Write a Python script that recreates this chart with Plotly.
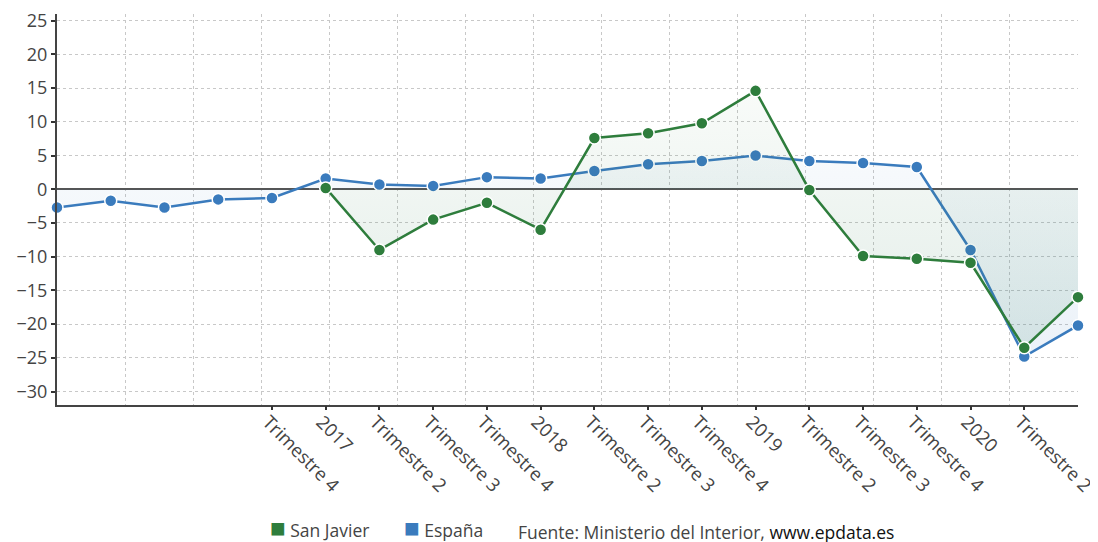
import plotly.graph_objects as go

idx = list(range(20))
tick_labels = ["", "", "", "", "Trimestre 4", "2017", "Trimestre 2", "Trimestre 3", "Trimestre 4",
               "2018", "Trimestre 2", "Trimestre 3", "Trimestre 4", "2019", "Trimestre 2",
               "Trimestre 3", "Trimestre 4", "2020", "Trimestre 2", ""]
espana = [-2.7, -1.7, -2.7, -1.5, -1.3, 1.6, 0.7, 0.5, 1.8, 1.6, 2.7, 3.7, 4.2, 5.0, 4.2, 3.9, 3.3,
          -9.0, -24.8, -20.2]
san_javier = [None, None, None, None, None, 0.2, -9.0, -4.5, -2.0, -6.0, 7.6, 8.3, 9.8, 14.6, -0.1,
              -9.9, -10.3, -10.9, -23.5, -16.0]

GREEN = "#2e7d3c"
BLUE = "#3a7bbd"

fig = go.Figure()
fig.add_trace(go.Scatter(
    x=idx, y=espana, mode="lines+markers", name="España",
    line=dict(color=BLUE, width=2.5),
    marker=dict(size=12, color=BLUE, line=dict(color="white", width=1.5)),
    fill="tozeroy",
    fillgradient=dict(type="vertical", start=-25, stop=15,
                      colorscale=[[0, "rgba(58,123,189,0.10)"], [1, "rgba(58,123,189,0.02)"]]),
    cliponaxis=False, showlegend=False))
sj_x = [i for i, v in zip(idx, san_javier) if v is not None]
sj_y = [v for v in san_javier if v is not None]
fig.add_trace(go.Scatter(
    x=sj_x, y=sj_y, mode="lines+markers", name="San Javier",
    line=dict(color=GREEN, width=2.5),
    marker=dict(size=12, color=GREEN, line=dict(color="white", width=1.5)),
    fill="tozeroy",
    fillgradient=dict(type="vertical", start=-25, stop=15,
                      colorscale=[[0, "rgba(46,125,100,0.14)"], [1, "rgba(46,125,60,0.03)"]]),
    cliponaxis=False, showlegend=False))
# helper traces so the tick-mark axis and the grid axis are drawn
for ax in ("x2", "x3"):
    fig.add_trace(go.Scatter(x=[0, 19], y=[None, None], xaxis=ax, mode="lines",
                             showlegend=False, hoverinfo="skip"))

FONT = "Open Sans, Noto Sans, sans-serif"
grid_vals = [19 * k / 15 for k in range(16)]
label_idx = [i for i, t in zip(idx, tick_labels) if t]
label_txt = [t for t in tick_labels if t]
LABEL_SHIFT = 0.075  # labels sit slightly left of their tick marks

fig.update_layout(
    width=1090, height=534,
    margin=dict(l=49, r=20, t=6, b=137),
    paper_bgcolor="white", plot_bgcolor="white",
    font=dict(family=FONT, color="#444", size=18),
    xaxis=dict(range=[0, 19], tickvals=[i - LABEL_SHIFT for i in label_idx], ticktext=label_txt,
               tickangle=45, automargin=False, ticklabeloverflow="allow",
               showgrid=False, zeroline=False, showline=True, linecolor="#444", linewidth=2,
               ticks="", ticklabelstandoff=-3,
               tickfont=dict(size=18.5, color="#444")),
    xaxis2=dict(range=[0, 19], overlaying="x", tickvals=label_idx, showticklabels=False,
                automargin=False, showgrid=False, zeroline=False, showline=False,
                ticks="outside", ticklen=4, tickcolor="#333", tickwidth=2),
    xaxis3=dict(range=[0, 19], overlaying="x", tickvals=grid_vals, showticklabels=False,
                automargin=False,
                showgrid=True, gridcolor="#c8c8c8", griddash="dot", gridwidth=1,
                zeroline=False, showline=False, ticks=""),
    yaxis=dict(range=[-32, 26], tickvals=list(range(-30, 30, 5)),
               automargin=False,
               showgrid=True, gridcolor="#c8c8c8", griddash="dot", gridwidth=1,
               zeroline=True, zerolinecolor="#555", zerolinewidth=2,
               showline=True, linecolor="#444", linewidth=2,
               ticks="outside", ticklen=4, tickcolor="#333", tickwidth=2,
               tickfont=dict(size=18, color="#444")),
    showlegend=False,
)

# legend row (pixel positions converted to paper coords of the plot domain)
def px_to_paper(px):
    return (px - 57) / 1021

SQ = '<span style="font-size:26px;color:{c}">■</span>'
legend_items = [
    (268, SQ.format(c=GREEN) + " San Javier", -0.313),
    (402, SQ.format(c=BLUE) + " España", -0.313),
    (516, 'Fuente: Ministerio del Interior, <span style="color:#111">www.epdata.es</span>', -0.326),
]
for px, txt, ypos in legend_items:
    fig.add_annotation(text=txt, xref="paper", yref="paper", x=px_to_paper(px), y=ypos,
                       xanchor="left", yanchor="middle", showarrow=False,
                       font=dict(size=17.5, color="#444", family=FONT))

fig.write_html("out.html")
